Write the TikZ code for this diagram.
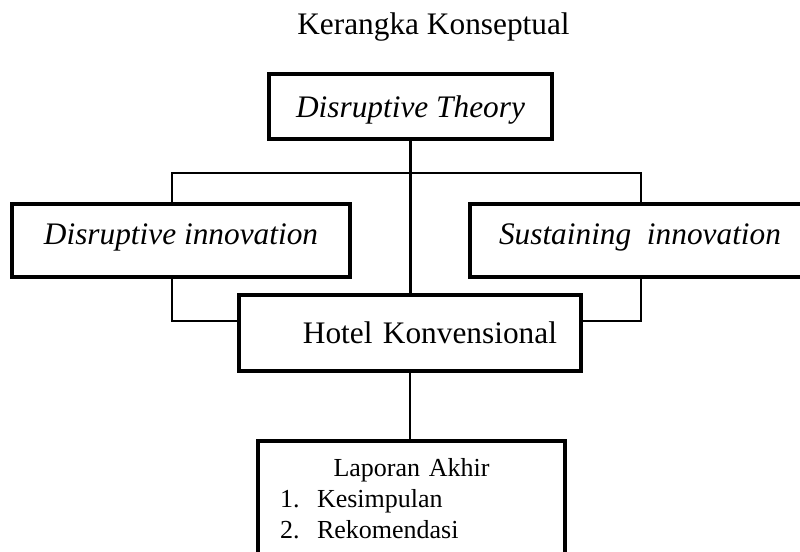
\documentclass[tikz,border=0pt]{standalone}
\usepackage{fontspec}
\setmainfont{Liberation Serif}
\usetikzlibrary{positioning,calc}

\begin{document}
\begin{tikzpicture}[
    x=0.75pt, y=-0.75pt,
    frame/.style={rectangle, draw, line width=3pt, inner sep=0pt, align=center},
    topbox/.style={frame, minimum width=212.25pt, minimum height=48.75pt, font=\fontsize{23.5}{28}\selectfont\itshape, text height=16.5pt, text depth=0pt},
    sidebox/.style={frame, minimum width=253.5pt, minimum height=54.75pt, font=\fontsize{23.5}{28}\selectfont\itshape, text height=16.5pt, text depth=11pt},
    midbox/.style={frame, minimum width=256.5pt, minimum height=57pt, font=\fontsize{23.5}{28}\selectfont, text width=220.5pt, align=right, inner xsep=18pt},
    listbox/.style={frame, minimum width=230.25pt, minimum height=87pt, text width=230.25pt, font=\fontsize{19.5}{23.25}\selectfont},
    conn/.style={line width=1.6pt}
]
    \clip (0,0) rectangle (800,552);

    \node[anchor=base, font=\fontsize{23.5}{28}\selectfont] (title) at (433.5,35) {Kerangka Konseptual};

    \node[topbox] (theory) at (410.5,106.5) {Disruptive Theory};
    \node[sidebox] (dinn) at (181,240.5) {Disruptive innovation};
    \node[sidebox, minimum width=255pt] (sinn) at (640,240.5) {Sustaining\ \ innovation};
    \node[midbox] (hotel) at (410,333) {Hotel Konvensional};
    \node[listbox, anchor=north] (report) at (411.5,439) {Laporan Akhir\\
        \makebox[230.25pt][l]{\hspace*{16.5pt}\makebox[27.75pt][l]{1.}Kesimpulan}\\
        \makebox[230.25pt][l]{\hspace*{16.5pt}\makebox[27.75pt][l]{2.}Rekomendasi}};

    \coordinate (lt) at (172,173);
    \coordinate (rt) at (641,173);
    \coordinate (lb) at (172,321);
    \coordinate (rb) at (641,321);

    \draw[conn] (theory.south) -- (theory.south |- hotel.north);
    \draw[conn] (dinn.north -| lt) -- (lt) -- (rt) -- (sinn.north -| rt);
    \draw[conn] (dinn.south -| lb) -- (lb) -- (lb -| hotel.west);
    \draw[conn] (sinn.south -| rb) -- (rb) -- (rb -| hotel.east);
    \draw[conn] (hotel.south) -- (hotel.south |- report.north);
\end{tikzpicture}
\end{document}
